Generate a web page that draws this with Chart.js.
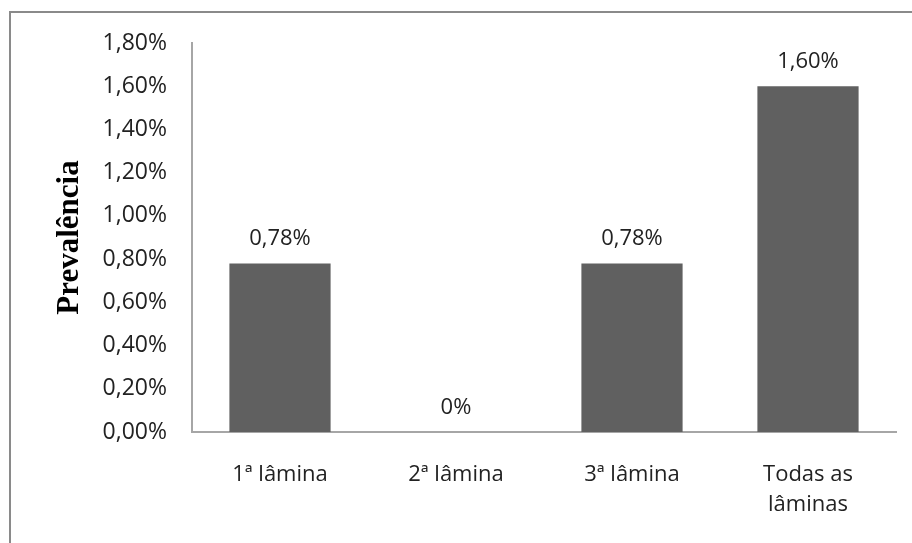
<!DOCTYPE html>
<html>
<head>
<meta charset="utf-8">
<script src="https://cdn.jsdelivr.net/npm/chart.js@4"></script>
<style>
  body { margin: 0; background: #fff; }
  #caixa { position: relative; width: 912px; height: 543px; overflow: hidden; }
  #moldura { position: absolute; left: 9px; top: 11px; width: 1000px; height: 1000px; border: 2px solid #8a8a8a; }
  #grafica { position: absolute; left: 0; top: 0; }
</style>
</head>
<body>
<div id="caixa">
  <div id="moldura"></div>
  <canvas id="grafica" width="912" height="543"></canvas>
</div>
<script>
const categorias = ["1ª lâmina", "2ª lâmina", "3ª lâmina", ["Todas as", "lâminas"]]
const prevalencia = [0.78, 0, 0.78, 1.6]
const eixoMin = 0
const eixoMax = 1.8
const eixoPasso = 0.2

const fonteTexto = "'Open Sans', 'Noto Sans', sans-serif"

const formatar = (v) => v === 0 ? "0%" : v.toFixed(2).replace(".", ",") + "%"

// escreve o valor em cima de cada barra
const rotulos = {
  id: "rotulos",
  afterDatasetsDraw(chart) {
    const ctx = chart.ctx
    const meta = chart.getDatasetMeta(0)
    ctx.save()
    ctx.font = "22px " + fonteTexto
    ctx.fillStyle = "#222"
    ctx.textAlign = "center"
    ctx.textBaseline = "alphabetic"
    meta.data.forEach((barra, i) => {
      ctx.fillText(formatar(prevalencia[i]), barra.x, barra.y - 18)
    })
    ctx.restore()
  }
}

const grafDOM = document.querySelector("#grafica")
const miGraf = new Chart(grafDOM, {
  type: "bar",
  data: {
    labels: categorias,
    datasets: [{
      label: "Prevalência",
      data: prevalencia,
      backgroundColor: "#606060",
      borderWidth: 0,
      barPercentage: 0.575,
      categoryPercentage: 1
    }]
  },
  options: {
    responsive: false,
    animation: false,
    layout: { padding: { left: 47, top: 43, right: 16, bottom: 0 } },
    plugins: { legend: { display: false }, tooltip: { enabled: false } },
    scales: {
      x: {
        grid: { display: false, drawTicks: false },
        border: { color: "#a6a6a6", width: 2 },
        ticks: {
          color: "#222",
          padding: 28,
          maxRotation: 0,
          autoSkip: false,
          font: { family: fonteTexto, size: 22, lineHeight: 1.35 }
        },
        afterFit(scale) { scale.height = 111 }
      },
      y: {
        min: eixoMin,
        max: eixoMax,
        grid: { display: false, drawTicks: false },
        border: { color: "#a6a6a6", width: 2 },
        ticks: {
          stepSize: eixoPasso,
          color: "#222",
          padding: 25,
          font: { family: fonteTexto, size: 23 },
          callback: (v) => v.toFixed(2).replace(".", ",") + "%"
        },
        title: {
          display: true,
          text: "Prevalência",
          color: "#000",
          font: { family: "'Liberation Serif', 'Times New Roman', serif", size: 31, weight: "bold" }
        },
        afterFit(scale) { scale.width = 145 }
      }
    }
  },
  plugins: [rotulos]
})
</script>
</body>
</html>
